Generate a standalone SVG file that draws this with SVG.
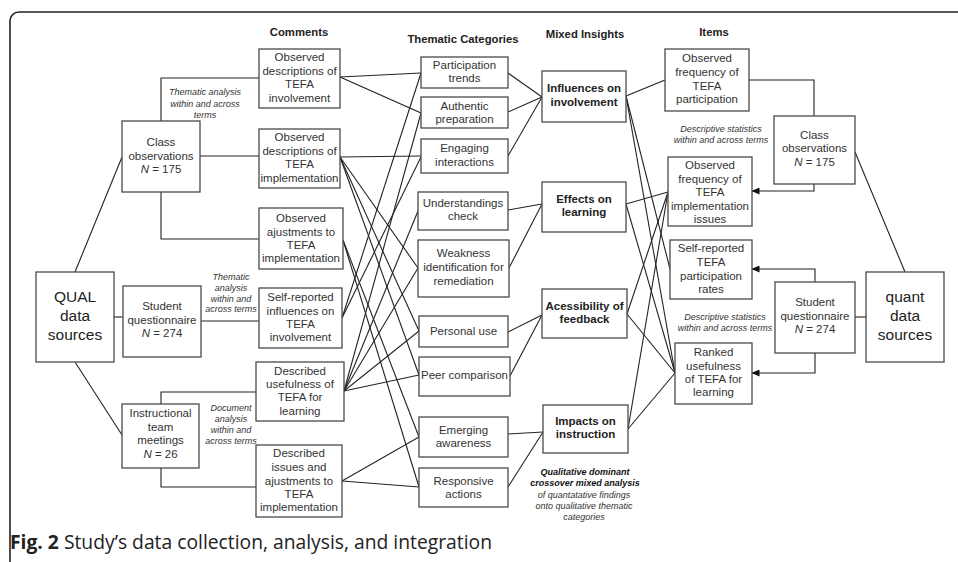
<svg xmlns="http://www.w3.org/2000/svg" width="958" height="562" viewBox="0 0 958 562">
<defs>
<marker id="arr" markerWidth="8" markerHeight="7" refX="7.5" refY="3.5" orient="auto" markerUnits="userSpaceOnUse">
<path d="M0,0 L8,3.5 L0,7 Z" fill="#111"/>
</marker>
</defs>
<style>
.bx{fill:#fff;stroke:#4a4a4a;stroke-width:1.3}
.t{font-family:"Liberation Sans",Arial,sans-serif;font-size:11.5px;fill:#333;text-anchor:middle}
.b{font-weight:bold;fill:#222}
.big{font-size:15.5px;fill:#222}
.h{font-family:"Liberation Sans",Arial,sans-serif;font-size:11.3px;font-weight:bold;fill:#222;text-anchor:middle}
.it{font-family:"Liberation Sans",Arial,sans-serif;font-size:9px;font-style:italic;fill:#333;text-anchor:middle}
.bi{font-weight:bold;fill:#111}
.ln{fill:none;stroke:#222;stroke-width:1.1}
.cap{font-family:"Open Sans","Noto Sans",sans-serif;font-size:19.3px;fill:#222}
</style>
<rect x="10" y="12" width="1000" height="600" rx="9" fill="none" stroke="#222" stroke-width="1.6"/>

<g id="connectors" class="ln">
<line x1="75" y1="272" x2="122" y2="157"/>
<line x1="75" y1="362" x2="122" y2="435"/>
<line x1="114" y1="317" x2="123" y2="317"/>
<polyline points="161,121 161,78 259,78"/>
<line x1="200" y1="156" x2="259" y2="156"/>
<polyline points="161,192 161,239 259,239"/>
<line x1="201" y1="321" x2="259" y2="321"/>
<polyline points="161,404 161,392 256,392"/>
<polyline points="161,468 161,487 256,487"/>
<line x1="340" y1="77" x2="421" y2="73"/>
<line x1="340" y1="77" x2="421" y2="113"/>
<line x1="340" y1="157" x2="421" y2="156"/>
<line x1="340" y1="157" x2="418" y2="268"/>
<line x1="340" y1="157" x2="419" y2="331"/>
<line x1="340" y1="157" x2="419" y2="375"/>
<line x1="343" y1="240" x2="419" y2="437"/>
<line x1="343" y1="240" x2="419" y2="487"/>
<line x1="342" y1="318" x2="421" y2="73"/>
<line x1="342" y1="318" x2="421" y2="157"/>
<line x1="344" y1="391" x2="421" y2="113"/>
<line x1="344" y1="391" x2="418" y2="211"/>
<line x1="344" y1="391" x2="418" y2="268"/>
<line x1="344" y1="391" x2="419" y2="331"/>
<line x1="344" y1="391" x2="419" y2="375"/>
<line x1="342" y1="481" x2="419" y2="437"/>
<line x1="342" y1="481" x2="419" y2="487"/>
<line x1="508" y1="73" x2="542" y2="97"/>
<line x1="508" y1="112" x2="542" y2="97"/>
<line x1="508" y1="156" x2="542" y2="97"/>
<line x1="508" y1="210" x2="542" y2="204"/>
<line x1="509" y1="268" x2="542" y2="204"/>
<line x1="508" y1="332" x2="542" y2="315"/>
<line x1="510" y1="376" x2="542" y2="315"/>
<line x1="508" y1="434" x2="543" y2="432"/>
<line x1="508" y1="487" x2="543" y2="432"/>
<line x1="626" y1="96" x2="665" y2="80"/>
<line x1="626" y1="96" x2="670" y2="269"/>
<line x1="626" y1="96" x2="675" y2="373"/>
<line x1="626" y1="204" x2="668" y2="192"/>
<line x1="626" y1="204" x2="675" y2="373"/>
<line x1="627" y1="314" x2="668" y2="192"/>
<line x1="627" y1="314" x2="675" y2="373"/>
<line x1="628" y1="429" x2="668" y2="192"/>
<line x1="628" y1="429" x2="675" y2="373"/>
<polyline points="749,80 814,80 814,116"/>
<polyline points="814,184 814,191 752,191" marker-end="url(#arr)"/>
<polyline points="815,282 815,269 752,269" marker-end="url(#arr)"/>
<polyline points="815,353 815,373 752,373" marker-end="url(#arr)"/>
<line x1="855" y1="152" x2="905" y2="272"/>
<line x1="855" y1="317" x2="866" y2="317"/>
</g>

<g id="headers">
<text class="h" x="299" y="36">Comments</text>
<text class="h" x="463" y="43">Thematic Categories</text>
<text class="h" x="585" y="38">Mixed Insights</text>
<text class="h" x="714" y="36">Items</text>
</g>

<g id="labels">
<text class="it" x="205" y="95">Thematic analysis</text>
<text class="it" x="205" y="107">within and across</text>
<text class="it" x="205" y="118">terms</text>
<text class="it" x="231" y="280">Thematic</text>
<text class="it" x="231" y="291">analysis</text>
<text class="it" x="231" y="301.5">within and</text>
<text class="it" x="231" y="312">across terms</text>
<text class="it" x="231" y="411">Document</text>
<text class="it" x="231" y="422">analysis</text>
<text class="it" x="231" y="433">within and</text>
<text class="it" x="231" y="444">across terms</text>
<text class="it" x="721" y="132">Descriptive statistics</text>
<text class="it" x="721" y="143">within and across terms</text>
<text class="it" x="725" y="320">Descriptive statistics</text>
<text class="it" x="725" y="330.5">within and across terms</text>
<text class="it bi" x="585" y="474.5">Qualitative dominant</text>
<text class="it bi" x="585" y="486">crossover mixed analysis</text>
<text class="it" x="584" y="497.5">of quantatative findings</text>
<text class="it" x="584" y="508.5">onto qualitative thematic</text>
<text class="it" x="584" y="519.5">categories</text>
</g>

<g id="qual"><rect class="bx" x="36" y="272" width="78" height="90"/>
<text class="t big" x="75" y="301.5">QUAL</text><text class="t big" x="75" y="320.5">data</text><text class="t big" x="75" y="339.5">sources</text></g>
<g id="class-obs-l"><rect class="bx" x="122" y="121" width="78" height="71"/>
<text class="t" x="161" y="146">Class</text><text class="t" x="161" y="160">observations</text><text class="t" x="161" y="173"><tspan font-style="italic">N</tspan> = 175</text></g>
<g id="student-l"><rect class="bx" x="123" y="286" width="78" height="71"/>
<text class="t" x="162" y="310">Student</text><text class="t" x="162" y="323.5">questionnaire</text><text class="t" x="162" y="337"><tspan font-style="italic">N</tspan> = 274</text></g>
<g id="instr"><rect class="bx" x="122" y="404" width="77" height="64"/>
<text class="t" x="160.5" y="417">Instructional</text><text class="t" x="160.5" y="431">team</text><text class="t" x="160.5" y="444">meetings</text><text class="t" x="160.5" y="458"><tspan font-style="italic">N</tspan> = 26</text></g>

<g id="c1"><rect class="bx" x="259" y="49" width="81" height="59"/>
<text class="t" x="299.5" y="61">Observed</text><text class="t" x="299.5" y="74.5">descriptions of</text><text class="t" x="299.5" y="88">TEFA</text><text class="t" x="299.5" y="101.5">involvement</text></g>
<g id="c2"><rect class="bx" x="259" y="129" width="81" height="59"/>
<text class="t" x="299.5" y="141">Observed</text><text class="t" x="299.5" y="154.5">descriptions of</text><text class="t" x="299.5" y="168">TEFA</text><text class="t" x="299.5" y="181.5">implementation</text></g>
<g id="c3"><rect class="bx" x="259" y="208" width="84" height="61"/>
<text class="t" x="301" y="222">Observed</text><text class="t" x="301" y="236">ajustments to</text><text class="t" x="301" y="249">TEFA</text><text class="t" x="301" y="262">implementation</text></g>
<g id="c4"><rect class="bx" x="259" y="288" width="83" height="60"/>
<text class="t" x="300.5" y="301">Self-reported</text><text class="t" x="300.5" y="315">influences on</text><text class="t" x="300.5" y="328">TEFA</text><text class="t" x="300.5" y="341">involvement</text></g>
<g id="c5"><rect class="bx" x="256" y="362" width="88" height="59"/>
<text class="t" x="300" y="375">Described</text><text class="t" x="300" y="388">usefulness of</text><text class="t" x="300" y="401">TEFA for</text><text class="t" x="300" y="415">learning</text></g>
<g id="c6"><rect class="bx" x="256" y="445" width="86" height="72"/>
<text class="t" x="299" y="457">Described</text><text class="t" x="299" y="471">issues and</text><text class="t" x="299" y="485">ajustments to</text><text class="t" x="299" y="498">TEFA</text><text class="t" x="299" y="511">implementation</text></g>

<g id="t1"><rect class="bx" x="421" y="57" width="87" height="31"/>
<text class="t" x="464.5" y="69">Participation</text><text class="t" x="464.5" y="82">trends</text></g>
<g id="t2"><rect class="bx" x="421" y="97" width="87" height="31"/>
<text class="t" x="464.5" y="110">Authentic</text><text class="t" x="464.5" y="123">preparation</text></g>
<g id="t3"><rect class="bx" x="421" y="139" width="87" height="34"/>
<text class="t" x="464.5" y="152">Engaging</text><text class="t" x="464.5" y="166">interactions</text></g>
<g id="t4"><rect class="bx" x="418" y="192" width="90" height="38"/>
<text class="t" x="463" y="207">Understandings</text><text class="t" x="463" y="220">check</text></g>
<g id="t5"><rect class="bx" x="418" y="240" width="91" height="57"/>
<text class="t" x="463.5" y="257">Weakness</text><text class="t" x="463.5" y="271">identification for</text><text class="t" x="463.5" y="285">remediation</text></g>
<g id="t6"><rect class="bx" x="419" y="316" width="89" height="31"/>
<text class="t" x="463.5" y="335">Personal use</text></g>
<g id="t7"><rect class="bx" x="419" y="357" width="91" height="39"/>
<text class="t" x="464.5" y="379">Peer comparison</text></g>
<g id="t8"><rect class="bx" x="419" y="417" width="89" height="40"/>
<text class="t" x="463.5" y="434">Emerging</text><text class="t" x="463.5" y="447">awareness</text></g>
<g id="t9"><rect class="bx" x="419" y="468" width="89" height="39"/>
<text class="t" x="463.5" y="485">Responsive</text><text class="t" x="463.5" y="498">actions</text></g>

<g id="m1"><rect class="bx" x="542" y="71" width="84" height="51"/>
<text class="t b" x="584" y="92">Influences on</text><text class="t b" x="584" y="106">involvement</text></g>
<g id="m2"><rect class="bx" x="542" y="182" width="84" height="50"/>
<text class="t b" x="584" y="203">Effects on</text><text class="t b" x="584" y="216">learning</text></g>
<g id="m3"><rect class="bx" x="542" y="289" width="85" height="49"/>
<text class="t b" x="584.5" y="310">Acessibility of</text><text class="t b" x="584.5" y="323">feedback</text></g>
<g id="m4"><rect class="bx" x="543" y="405" width="85" height="48"/>
<text class="t b" x="585.5" y="425">Impacts on</text><text class="t b" x="585.5" y="438">instruction</text></g>

<g id="i1"><rect class="bx" x="665" y="49" width="84" height="62"/>
<text class="t" x="707" y="62">Observed</text><text class="t" x="707" y="76">frequency of</text><text class="t" x="707" y="90">TEFA</text><text class="t" x="707" y="103">participation</text></g>
<g id="i2"><rect class="bx" x="668" y="157" width="84" height="69"/>
<text class="t" x="710" y="169">Observed</text><text class="t" x="710" y="183">frequency of</text><text class="t" x="710" y="196">TEFA</text><text class="t" x="710" y="210">implementation</text><text class="t" x="710" y="223">issues</text></g>
<g id="i3"><rect class="bx" x="670" y="240" width="82" height="59"/>
<text class="t" x="711" y="252">Self-reported</text><text class="t" x="711" y="266">TEFA</text><text class="t" x="711" y="280">participation</text><text class="t" x="711" y="293">rates</text></g>
<g id="i4"><rect class="bx" x="675" y="343" width="77" height="61"/>
<text class="t" x="713.5" y="356">Ranked</text><text class="t" x="713.5" y="370">usefulness</text><text class="t" x="713.5" y="383">of TEFA for</text><text class="t" x="713.5" y="396">learning</text></g>

<g id="class-obs-r"><rect class="bx" x="774" y="116" width="81" height="68"/>
<text class="t" x="814.5" y="139">Class</text><text class="t" x="814.5" y="152">observations</text><text class="t" x="814.5" y="166"><tspan font-style="italic">N</tspan> = 175</text></g>
<g id="student-r"><rect class="bx" x="775" y="282" width="80" height="71"/>
<text class="t" x="815" y="306">Student</text><text class="t" x="815" y="320">questionnaire</text><text class="t" x="815" y="333"><tspan font-style="italic">N</tspan> = 274</text></g>
<g id="quant"><rect class="bx" x="866" y="272" width="78" height="90"/>
<text class="t big" x="905" y="302">quant</text><text class="t big" x="905" y="320.5">data</text><text class="t big" x="905" y="339.5">sources</text></g>

<text class="cap" x="10" y="549"><tspan font-weight="bold">Fig. 2</tspan> Study’s data collection, analysis, and integration</text>
</svg>
